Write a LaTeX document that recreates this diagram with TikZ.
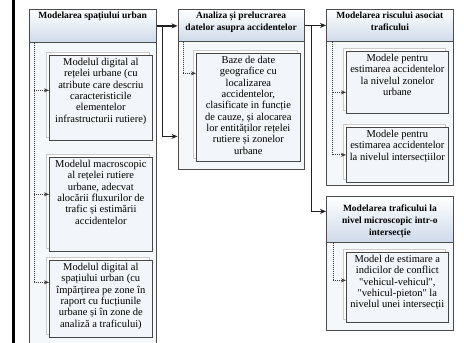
\documentclass[tikz,border=0pt]{standalone}
\usepackage{fontspec}
\setmainfont{Liberation Serif}[Ligatures=TeXOff]
\usetikzlibrary{arrows.meta,shadows}
\definecolor{framefill}{RGB}{245,248,251}
\definecolor{hdrblue}{RGB}{206,218,234}
\definecolor{boxfill}{RGB}{242,245,249}
\newcommand{\cell}[3]{\parbox[c][#2][t]{#1}{\centering #3}}

\begin{document}
\begin{tikzpicture}[x=1pt,y=-1pt,
    grp/.style={draw=gray!60!black,fill=framefill,line width=.8pt,anchor=north west,inner sep=0pt},
    hdr/.style={draw=gray!60!black,line width=.8pt,top color=white,bottom color=hdrblue,
                anchor=north west,inner xsep=0pt,inner ysep=3pt,font=\fontsize{9.5}{12}\selectfont\bfseries},
    itembox/.style={draw=gray!55!black,fill=boxfill,line width=.7pt,anchor=north west,
                inner xsep=2pt,inner ysep=3pt,font=\fontsize{10.5}{11.3}\selectfont,
                copy shadow={shadow xshift=-3pt,shadow yshift=3pt,draw=gray!40,fill=white}},
    link/.style={draw=gray!25!black,line width=1.3pt,-{Stealth[length=6pt,width=5pt]}},
    dots/.style={draw=gray!45!black,line width=1pt,densely dotted,-{Stealth[length=5pt,width=4pt]}}]

\useasboundingbox (0,0) rectangle (464,343);
\fill[white] (0,0) rectangle (464,343);
\fill (12,0) rectangle (14.5,343);

% group frames and headers
\node[grp,minimum width=127.5pt,minimum height=345pt] (g1) at (28.5,9) {};
\node[hdr,minimum width=127.5pt] (h1) at (28.5,9) {\cell{120pt}{27pt}{Modelarea spațiului urban}};
\node[grp,minimum width=126.5pt,minimum height=160pt] (g2) at (177.5,9) {};
\node[hdr,minimum width=126.5pt] (h2) at (177.5,9) {\cell{120pt}{26pt}{Analiza și prelucrarea\\ datelor asupra accidentelor}};
\node[grp,minimum width=127pt,minimum height=176pt] (g3) at (326,9) {};
\node[hdr,minimum width=127pt] (h3) at (326,9) {\cell{120pt}{26pt}{Modelarea riscului asociat\\ traficului}};
\node[grp,minimum width=127pt,minimum height=134pt] (g4) at (326,196) {};
\node[hdr,minimum width=127pt] (h4) at (326,196) {\cell{120pt}{40pt}{\vspace*{5pt}Modelarea traficului la\\ nivel microscopic intr-o\\ intersecție}};

% inner boxes
\node[itembox] (b11) at (49,55) {\cell{99pt}{79pt}{Modelul digital al\\ rețelei urbane (cu\\ atribute care descriu\\ caracteristicile\\ elementelor\\ infrastructurii rutiere)}};
\node[itembox] (b12) at (49,157) {\cell{99pt}{88pt}{Modelul macroscopic\\ al rețelei rutiere\\ urbane, adecvat\\ alocării fluxurilor de\\ trafic și estimării\\ accidentelor}};
\node[itembox] (b13) at (49,260) {\cell{99pt}{71pt}{Modelul digital al\\ spațiului urban (cu\\ împărțirea pe zone în\\ raport cu fucțiunile\\ urbane și în zone de\\ analiză a traficului)}};
\node[itembox] (b21) at (196,53) {\cell{100pt}{102pt}{Baze de date\\ geografice cu\\ localizarea\\ accidentelor,\\ clasificate in funcție\\ de cauze, și alocarea\\ lor entităților rețelei\\ rutiere și zonelor\\ urbane}};
\node[itembox] (b31) at (346,51) {\cell{98pt}{56pt}{Modele pentru\\ estimarea accidentelor\\ la nivelul zonelor\\ urbane}};
\node[itembox] (b32) at (346,127) {\cell{98pt}{49pt}{Modele pentru\\ estimarea accidentelor\\ la nivelul intersecțiilor}};
\node[itembox] (b41) at (346,252) {\cell{98pt}{64pt}{Model de estimare a\\ indicilor de conflict\\ "vehicul-vehicul",\\ "vehicul-pieton" la\\ nivelul unei intersecții}};

% links between groups
\draw[link] (h1.east) -- (h1.east -| g2.west);
\draw[link] ([xshift=5.5pt]h1.east) |- ([yshift=-47pt]g2.west);
\draw[link] (h2.east) -- (h2.east -| g3.west);
\draw[link] ([xshift=7pt]h2.east) |- ([yshift=8pt]h4.west);

% dotted links inside groups
\draw[dots] ([xshift=5.5pt]h1.south west) |- ([yshift=7.5pt]b11.west);
\draw[dots] ([xshift=5.5pt]h1.south west) |- ([yshift=10pt]b12.west);
\draw[dots] ([xshift=5.5pt]h1.south west) |- ([yshift=16.5pt]b13.west);
\draw[dots] ([xshift=5.5pt]h2.south west) |- ([yshift=34pt]b21.west);
\draw[dots] ([xshift=6pt]h3.south west) |- ([yshift=-10pt]b31.west);
\draw[dots] ([xshift=6pt]h3.south west) |- (b32.west);
\draw[dots] ([xshift=7pt]h4.south west) |- ([yshift=7pt]b41.west);

\end{tikzpicture}
\end{document}
